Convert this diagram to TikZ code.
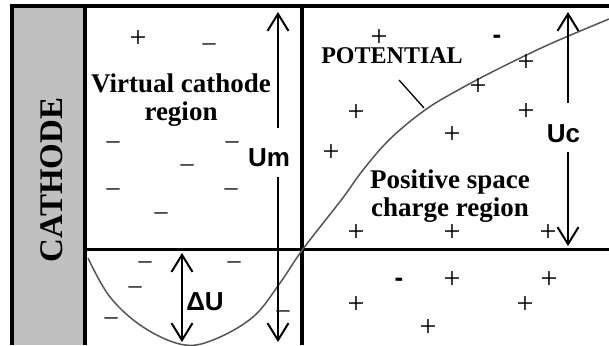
\documentclass[tikz,border=0pt]{standalone}
\usepackage{fontspec}
\setmainfont{Liberation Serif}
\newfontfamily\lsans{Liberation Sans}
\usetikzlibrary{arrows.meta}
\definecolor{cathgray}{RGB}{192,192,192}
\definecolor{curvegray}{RGB}{85,85,85}
\tikzset{
  frame/.style={line width=4pt},
  midframe/.style={line width=3pt},
  poscharge/.style={font=\fontsize{30}{30}\selectfont, inner sep=0pt},
  negcharge/.style={font=\fontsize{26}{26}\selectfont, inner sep=0pt, anchor=base},
  negbold/.style={font=\lsans\bfseries\fontsize{26}{26}\selectfont, inner sep=0pt},
  regiontitle/.style={font=\bfseries\fontsize{27}{28}\selectfont, inner sep=0pt, align=center},
  volt/.style={font=\lsans\bfseries\fontsize{26}{26}\selectfont, inner sep=0pt},
  dimarrow/.style={line width=2pt, -{Straight Barb[length=17pt,width=21pt,line width=2pt]}},
  potential/.style={curvegray, line width=1.5pt},
}
\begin{document}
\begin{tikzpicture}[x=1pt,y=-1pt]
\useasboundingbox (0,0) rectangle (609,345);
\fill[white] (0,0) rectangle (609,345);
% cathode column
\fill[cathgray] (12,7) rectangle (85,345);
\node[font=\bfseries\fontsize{33}{33}\selectfont, rotate=90, inner sep=0pt] (cath) at (52,180) {CATHODE};
% frame lines
\draw[frame] (12,345) -- (12,6.5) -- (609,6.5);
\draw[frame] (85,6.5) -- (85,345);
\draw[frame] (302,6.5) -- (302,345);
\draw[midframe] (85,249) -- (609,249);

% potential curve
\draw[potential] plot[smooth, tension=0.6] coordinates {(88,258) (110,297) (143,327) (182,344.5) (213,340) (253,317) (280,283) (303,249) (342,199) (363,170) (390,139) (425,110) (460,89) (500,68) (550,44) (609,19)};

% region labels
\node[regiontitle] (vc) at (181,100) {Virtual cathode\\region};
\node[regiontitle] (psc) at (450,196) {Positive space\\charge region};
\node[font=\bfseries\fontsize{24}{24}\selectfont, inner sep=0pt] (pot) at (392,56) {POTENTIAL};
\coordinate (potA) at (399,80);
\coordinate (potB) at (424,108);
\draw[line width=1.3pt] (potA) -- (potB);

% Um
\node[volt] (um) at (269,158) {Um};
\coordinate (umA) at (278,128);
\coordinate (umT) at (278,12);
\coordinate (umB) at (278,177);
\coordinate (umE) at (278,342);
\draw[dimarrow] (umA) -- (umT);
\draw[dimarrow] (umB) -- (umE);
% Uc
\node[volt] (uc) at (563.5,133.5) {Uc};
\coordinate (ucA) at (568,103);
\coordinate (ucT) at (568,12);
\coordinate (ucB) at (568,152);
\coordinate (ucE) at (568,246);
\draw[dimarrow] (ucA) -- (ucT);
\draw[dimarrow] (ucB) -- (ucE);
% Delta U
\node[volt] (du) at (205,302) {ΔU};
\coordinate (duT) at (182,253);
\coordinate (duB) at (182,342);
\coordinate (duM) at (182,300);
\draw[dimarrow] (duM) -- (duT);
\draw[dimarrow] (duM) -- (duB);

% positive charges
\node[poscharge] (p1) at (138,39) {+};
\node[poscharge] (p2) at (379,38) {+};
\node[poscharge] (p3) at (526,63) {+};
\node[poscharge] (p4) at (478,87) {+};
\node[poscharge] (p5) at (356,113) {+};
\node[poscharge] (p6) at (526,112) {+};
\node[poscharge] (p7) at (452,135) {+};
\node[poscharge] (p8) at (331,153) {+};
\node[poscharge] (p9) at (356,233) {+};
\node[poscharge] (p10) at (452,233) {+};
\node[poscharge] (p11) at (548,233) {+};
\node[poscharge] (p12) at (452,280) {+};
\node[poscharge] (p13) at (549,280) {+};
\node[poscharge] (p14) at (356,305) {+};
\node[poscharge] (p15) at (525,305) {+};
\node[poscharge] (p16) at (428,328) {+};

% negative charges (dashes)
\node[negcharge] (n1) at (209,51) {\textendash};
\node[negcharge] (n2) at (113,148) {\textendash};
\node[negcharge] (n3) at (232,148) {\textendash};
\node[negcharge] (n4) at (187,171) {\textendash};
\node[negcharge] (n5) at (113,195) {\textendash};
\node[negcharge] (n6) at (231,195) {\textendash};
\node[negcharge] (n7) at (161,219) {\textendash};
\node[negcharge] (n8) at (145,268) {\textendash};
\node[negcharge] (n9) at (234,268) {\textendash};
\node[negcharge] (n10) at (135,293) {\textendash};
\node[negcharge] (n11) at (111,324) {\textendash};
\node[negcharge] (n12) at (283,317) {\textendash};
% bold hyphens
\node[negbold] (h1) at (497,39) {-};
\node[negbold] (h2) at (399,282) {-};
\end{tikzpicture}
\end{document}
